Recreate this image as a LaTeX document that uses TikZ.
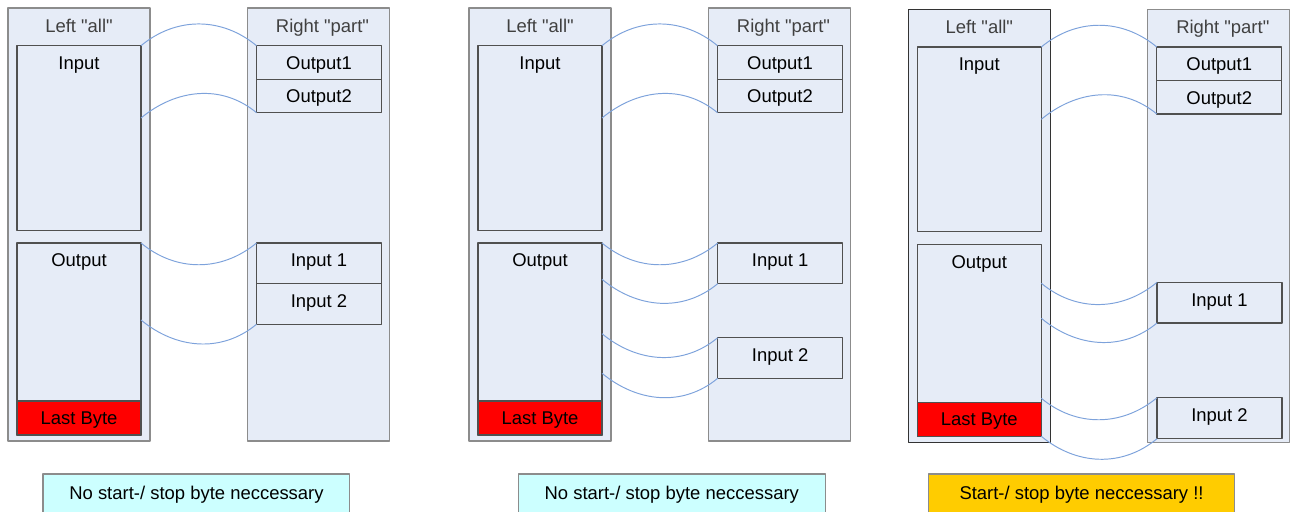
\documentclass[tikz,border=0pt]{standalone}
\usepackage{fontspec}
\setmainfont{Liberation Sans}
\newfontfamily\diagfont{Liberation Sans}
\definecolor{slab}{HTML}{E6ECF7}
\definecolor{frame}{HTML}{8C8C8C}
\definecolor{edge}{HTML}{505050}
\definecolor{link}{HTML}{7DA2DB}
\definecolor{title}{HTML}{404040}
\definecolor{okbox}{HTML}{CCFFFF}
\definecolor{warnbox}{HTML}{FFCC00}

\begin{document}
\begin{tikzpicture}[x=0.02cm,y=-0.02cm,line join=round,
  frame/.style={draw=frame,fill=slab,line width=0.7pt,inner sep=0pt,outer sep=0pt,
    anchor=north west,minimum width=2.84cm,minimum height=8.66cm},
  cellbox/.style={draw=edge,fill=slab,line width=0.6pt,inner sep=0pt,outer sep=0pt,
    anchor=north west,minimum width=2.48cm},
  slot/.style={draw=edge,fill=slab,line width=0.6pt,inner sep=0pt,outer sep=0pt,
    anchor=north west,minimum width=2.5cm},
  note/.style={draw=frame,line width=0.6pt,inner sep=0pt,outer sep=0pt,
    anchor=north west,minimum width=6.14cm,minimum height=0.8cm},
  tag/.style={anchor=base,inner sep=0pt,font=\diagfont\fontsize{10.5pt}{12pt}\selectfont},
  wire/.style={draw=link,line width=0.55pt}]
  \useasboundingbox (0,0) rectangle (1290,511);

  % Arcs between the two frames: over the gap and under it.
  \newcommand{\arcup}[2]{\draw[wire] (#1) .. controls +(35,-29) and +(-35,-29) .. (#2);}
  \newcommand{\arcdown}[2]{\draw[wire] (#1) .. controls +(35,29) and +(-35,29) .. (#2);}

  % Common part of one panel: both frames, Input/Output cells, Output1/2 slots.
  \newcommand{\slabpanel}[4]{%
    \begin{scope}[shift={(#2,#3)}]
      \node[frame,draw=#4] (#1L) at (0,0) {};
      \node[frame] (#1R) at (239.5,0) {};
      \node[tag,text=title] (#1Lt) at ([yshift=-0.486cm]#1L.north) {Left "all"};
      \node[tag,text=title] (#1Rt) at ([xshift=0.08cm,yshift=-0.486cm]#1R.north) {Right "part"};
      \node[cellbox,minimum height=3.69cm] (#1in) at (9,37.7) {};
      \node[tag] (#1int) at ([yshift=-0.472cm]#1in.north) {Input};
      \node[cellbox,minimum height=3.84cm] (#1out) at (9,235) {};
      \node[tag] (#1outt) at ([yshift=-0.474cm]#1out.north) {Output};
      \node[cellbox,fill=red,minimum height=0.68cm] (#1lb) at (9,393) {};
      \node[tag] (#1lbt) at ([yshift=-0.466cm]#1lb.north) {Last Byte};
      \node[slot,minimum height=0.672cm] (#1o1) at (248.5,37.7) {};
      \node[tag] (#1o1t) at ([yshift=-0.472cm]#1o1.north) {Output1};
      \node[slot,minimum height=0.668cm] (#1o2) at (#1o1.south west) {};
      \node[tag] (#1o2t) at ([yshift=-0.472cm]#1o2.north) {Output2};
      \coordinate (#1inE) at (133,110);
      \arcup{#1in.north east}{#1o1.north west}
      \arcup{#1inE}{#1o2.south west}
    \end{scope}}

  \slabpanel{a}{8}{8}{frame}
  \slabpanel{b}{469}{8}{frame}
  \slabpanel{c}{908.3}{9.3}{black!80}

  % Panel one: both inputs stacked, two arcs.
  \begin{scope}[shift={(8,8)}]
    \node[slot,minimum height=0.814cm] (aI1) at (248.5,235) {};
    \node[tag] (aI1t) at ([yshift=-0.474cm]aI1.north) {Input 1};
    \node[slot,minimum height=0.812cm] (aI2) at (aI1.south west) {};
    \node[tag] (aI2t) at ([yshift=-0.474cm]aI2.north) {Input 2};
    \coordinate (aoutE) at (133,312);
    \arcdown{aout.north east}{aI1.north west}
    \arcdown{aoutE}{aI2.south west}
  \end{scope}

  % Panel two: inputs apart, four arcs.
  \begin{scope}[shift={(469,8)}]
    \node[slot,minimum height=0.814cm] (bI1) at (248.7,235) {};
    \node[tag] (bI1t) at ([yshift=-0.474cm]bI1.north) {Input 1};
    \node[slot,minimum height=0.812cm] (bI2) at (248.7,329.7) {};
    \node[tag] (bI2t) at ([yshift=-0.474cm]bI2.north) {Input 2};
    \coordinate (boutA) at (133,271.3);
    \coordinate (boutB) at (133,325.7);
    \coordinate (boutC) at (133,365.3);
    \arcdown{bout.north east}{bI1.north west}
    \arcdown{boutA}{bI1.south west}
    \arcdown{boutB}{bI2.north west}
    \arcdown{boutC}{bI2.south west}
  \end{scope}

  % Panel three: inputs shifted down, last arc leaves below the cell.
  \begin{scope}[shift={(908.3,9.3)}]
    \node[slot,minimum height=0.814cm] (cI1) at (248.7,273) {};
    \node[tag] (cI1t) at ([yshift=-0.474cm]cI1.north) {Input 1};
    \node[slot,minimum height=0.82cm] (cI2) at (248.7,388.4) {};
    \node[tag] (cI2t) at ([yshift=-0.474cm]cI2.north) {Input 2};
    \coordinate (coutA) at (133,274);
    \coordinate (coutB) at (133,309);
    \coordinate (coutC) at (133,389);
    \arcdown{coutA}{cI1.north west}
    \arcdown{coutB}{cI1.south west}
    \arcdown{coutC}{cI2.north west}
    \arcdown{clb.south east}{cI2.south west}
  \end{scope}

  % Verdicts under the panels.
  \node[note,fill=okbox] (n1) at (43,474) {};
  \node[tag] (n1t) at ([yshift=-0.506cm]n1.north) {No start-/ stop byte neccessary};
  \node[note,fill=okbox] (n2) at (518.3,474) {};
  \node[tag] (n2t) at ([yshift=-0.506cm]n2.north) {No start-/ stop byte neccessary};
  \node[note,fill=warnbox,minimum width=6.13cm] (n3) at (928.3,474) {};
  \node[tag] (n3t) at ([yshift=-0.506cm]n3.north) {Start-/ stop byte neccessary !!};
\end{tikzpicture}
\end{document}
